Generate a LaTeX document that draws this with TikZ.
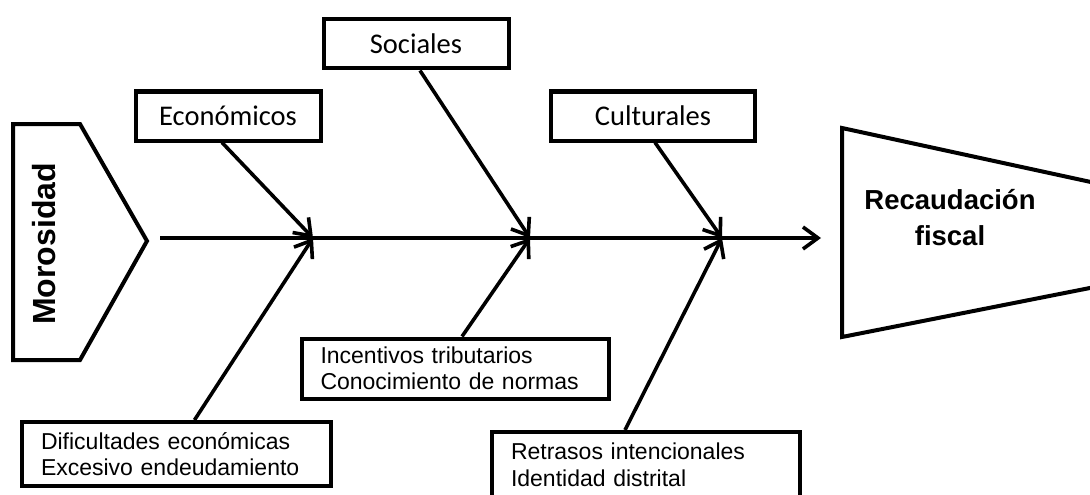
\documentclass[tikz,border=0pt]{standalone}
\usepackage{fontspec}
\setmainfont{Liberation Sans}
\newfontfamily\carlito{Carlito}
\usetikzlibrary{arrows.meta,positioning,calc}

\begin{document}
\begin{tikzpicture}[
    x=1pt, y=-1pt,
    >={Straight Barb[length=15pt,width=22pt]},
    cause/.style={rectangle, draw, line width=4pt, minimum height=49pt, font=\carlito\fontsize{28.5}{32}\selectfont},
    detail/.style={rectangle, draw, line width=4pt, align=left, inner xsep=19pt, font=\fontsize{23}{26.5}\selectfont},
    head/.style={line width=4pt, line join=miter},
    title/.style={align=center, font=\bfseries\fontsize{27.5}{36}\selectfont},
    arrow/.style={->, line width=3.6pt}
]
    \useasboundingbox (0,0) rectangle (1090,495);

    % Problem and effect
    \draw [head] (13,124) -- (80,124) -- (147,241) -- (80,360) -- (13,360) -- cycle;
    \node (morosidad) [title, rotate=90, font=\bfseries\fontsize{32}{34}\selectfont] at (44,244) {Morosidad};

    \draw [head] (842,128) -- (1100,184) -- (1100,286) -- (842,337) -- cycle;
    \node (recaudacion) [title] at (950,218) {Recaudación\\fiscal};

    % Spine
    \coordinate (spine_start) at (160,238);
    \coordinate (spine_end) at (821,238);
    \coordinate (j1) at (313,238);
    \coordinate (j2) at (530,238);
    \coordinate (j3) at (722,238);

    % Causes
    \node (economicos) [cause, minimum width=185pt] at (228,116) {Económicos};
    \node (sociales) [cause, minimum width=185pt] at (416,44) {Sociales};
    \node (culturales) [cause, minimum width=204pt] at (653,116) {Culturales};

    % Sub-causes
    \node (dificultades) [detail, minimum width=309pt, minimum height=64pt, text width=271pt] at (176.5,454) {Dificultades económicas\\Excesivo endeudamiento};
    \node (incentivos) [detail, minimum width=307pt, minimum height=60pt, text width=269pt] at (455,368.5) {Incentivos tributarios\\Conocimiento de normas};
    \node (retrasos) [detail, minimum width=308pt, minimum height=66pt, text width=270pt] at (646,465) {Retrasos intencionales\\Identidad distrital};

    % Arrows
    \draw [arrow] (spine_start) -- (spine_end);
    \draw [arrow] ([xshift=-6pt]economicos.south) -- (j1);
    \draw [arrow] ([xshift=4pt]sociales.south) -- (j2);
    \draw [arrow] ([xshift=2pt]culturales.south) -- (j3);
    \draw [arrow] ([xshift=18pt]dificultades.north) -- (j1);
    \draw [arrow] ([xshift=7pt]incentivos.north) -- (j2);
    \draw [arrow] ([xshift=-21pt]retrasos.north) -- (j3);

\end{tikzpicture}
\end{document}
